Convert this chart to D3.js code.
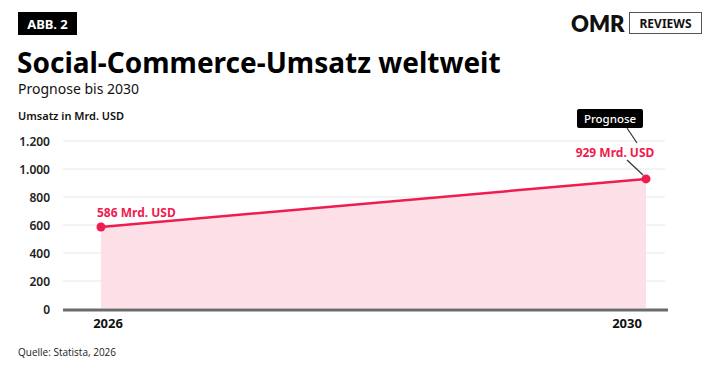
<!DOCTYPE html>
<html>
<head>
<meta charset="utf-8">
<script src="https://cdn.jsdelivr.net/npm/d3@7"></script>
<style>
  body { margin: 0; background: #fff; }
  svg { display: block; font-family: "Noto Sans", "Open Sans", sans-serif; }
</style>
</head>
<body>
<svg id="chart" width="716" height="372"></svg>
<script>
// data
var years = [2026, 2030]
var umsatz = [586, 929]
var valueLabels = ['586 Mrd. USD', '929 Mrd. USD']
var yTicks = [0, 200, 400, 600, 800, 1000, 1200]

var svg = d3.select('#chart')
var red = '#ef1c4f', pink = '#fde0e7'

// header
svg.append('rect').attr('x', 18).attr('y', 12).attr('width', 59).attr('height', 23).attr('fill', '#000')
svg.append('text').attr('x', 47.5).attr('y', 29).attr('text-anchor', 'middle')
  .attr('fill', '#fff').attr('font-size', 13).attr('font-weight', 700).text('ABB. 2')

svg.append('text').attr('x', 571).attr('y', 32).attr('font-size', 22).attr('font-weight', 800)
  .attr('font-family', 'Lato, sans-serif').attr('fill', '#111').text('OMR')
svg.append('rect').attr('x', 629.5).attr('y', 12.5).attr('width', 72).attr('height', 21)
  .attr('fill', '#fff').attr('stroke', '#555').attr('stroke-width', 1)
svg.append('text').attr('x', 665.5).attr('y', 28).attr('text-anchor', 'middle')
  .attr('font-size', 12).attr('font-weight', 700).attr('fill', '#111').text('REVIEWS')

svg.append('text').attr('x', 17).attr('y', 73).attr('font-size', 28).attr('font-weight', 700)
  .attr('fill', '#000').text('Social-Commerce-Umsatz weltweit')
svg.append('text').attr('x', 18).attr('y', 94).attr('font-size', 14).attr('fill', '#111')
  .text('Prognose bis 2030')
svg.append('text').attr('x', 18).attr('y', 120).attr('font-size', 11).attr('font-weight', 600)
  .attr('fill', '#111').text('Umsatz in Mrd. USD')

// scales
var x = d3.scalePoint().domain(years).range([101, 646])
var y = d3.scaleLinear().domain([0, 1200]).range([309, 141])

// grid
svg.append('g').selectAll('line').data(yTicks.slice(1)).join('line')
  .attr('x1', 63).attr('x2', 665)
  .attr('y1', d => y(d)).attr('y2', d => y(d))
  .attr('stroke', '#e8e8e8').attr('stroke-width', 1)

svg.append('g').selectAll('text').data(yTicks).join('text')
  .attr('x', 50).attr('y', d => y(d) + 4.5).attr('text-anchor', 'end')
  .attr('font-size', 12).attr('font-weight', 600).attr('fill', '#222')
  .text(d => d3.format(',')(d).replace(/,/g, '.'))

// area + line
var pts = years.map((yr, i) => [yr, umsatz[i]])
svg.append('path').datum(pts)
  .attr('d', d3.area().x(d => x(d[0])).y0(y(0) - 1).y1(d => y(d[1])))
  .attr('fill', pink)
svg.append('path').datum(pts)
  .attr('d', d3.line().x(d => x(d[0])).y(d => y(d[1])))
  .attr('fill', 'none').attr('stroke', red).attr('stroke-width', 2.5)

// baseline
svg.append('line').attr('x1', 63).attr('x2', 668).attr('y1', 310).attr('y2', 310)
  .attr('stroke', '#6b6b6b').attr('stroke-width', 3)

// x labels
var xLabelPos = [108, 627]
svg.append('g').selectAll('text').data(years).join('text')
  .attr('x', (d, i) => xLabelPos[i]).attr('y', 328).attr('text-anchor', 'middle')
  .attr('font-size', 13).attr('font-weight', 700).attr('fill', '#111').text(d => d)

// leader lines + prognose tag
svg.append('line').attr('x1', 627).attr('y1', 128).attr('x2', 637).attr('y2', 143)
  .attr('stroke', '#333').attr('stroke-width', 1.2)
svg.append('line').attr('x1', 627).attr('y1', 160).attr('x2', 643).attr('y2', 175)
  .attr('stroke', '#333').attr('stroke-width', 1.2)
svg.append('rect').attr('x', 577).attr('y', 109).attr('width', 66).attr('height', 19)
  .attr('rx', 2).attr('fill', '#000')
svg.append('text').attr('x', 610).attr('y', 123).attr('text-anchor', 'middle')
  .attr('font-size', 11.5).attr('font-weight', 500).attr('fill', '#fff').text('Prognose')

// points
svg.append('g').selectAll('circle').data(pts).join('circle')
  .attr('cx', d => x(d[0])).attr('cy', d => y(d[1])).attr('r', 4.5).attr('fill', red)

// value labels
svg.append('text').attr('x', 97).attr('y', 217).attr('font-size', 12).attr('font-weight', 700)
  .attr('fill', red).text(valueLabels[0])
svg.append('text').attr('x', 615).attr('y', 157).attr('text-anchor', 'middle')
  .attr('font-size', 12).attr('font-weight', 700).attr('fill', red).text(valueLabels[1])

// source
svg.append('text').attr('x', 18).attr('y', 356).attr('font-size', 10)
  .attr('font-family', '"Liberation Sans Narrow", "Open Sans", sans-serif')
  .attr('fill', '#222').text('Quelle: Statista, 2026')
</script>
</body>
</html>
